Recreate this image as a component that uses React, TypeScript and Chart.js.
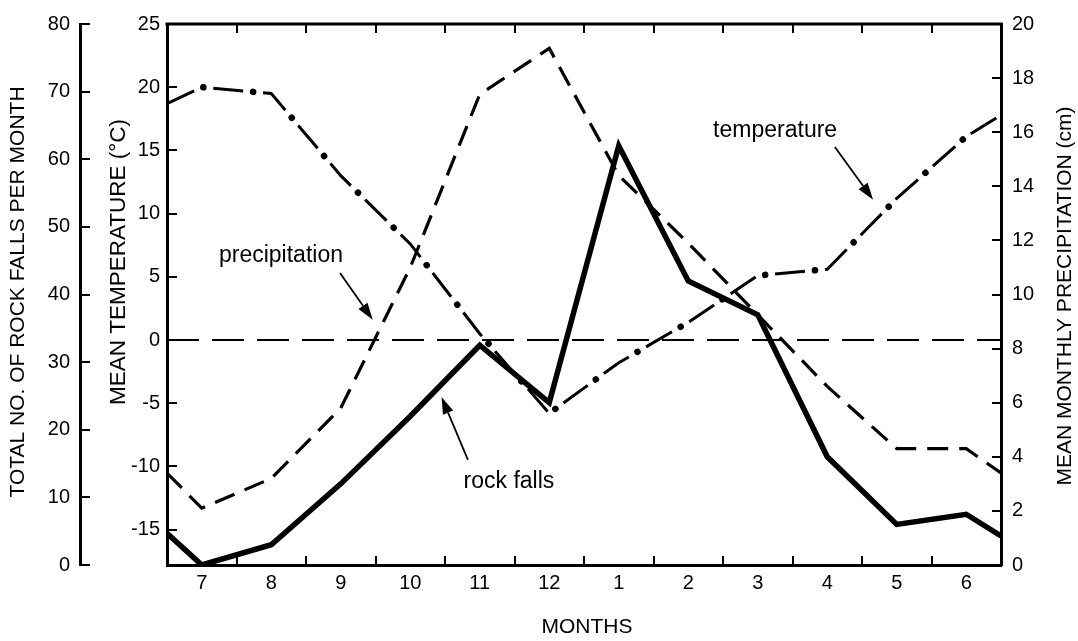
import React, { useEffect, useRef } from 'react';
import { Chart, registerables } from 'chart.js';

Chart.register(...registerables);

// ---- data ----
const months = ['7', '8', '9', '10', '11', '12', '1', '2', '3', '4', '5', '6'];
const rockFalls = [0, 3, 12, 22, 32.5, 24, 62, 42, 37, 16, 6, 7.5];
const rockFallsEnds = [4.7, 4.3];
const temperature = [20.0, 19.5, 13.0, 7.6, 0.5, -5.8, -1.8, 1.4, 5.1, 5.6, 11.2, 16.1];
const temperatureEnds = [18.7, 17.8];
const precipitation = [2.1, 3.2, 5.8, 11.0, 17.4, 19.1, 14.4, 11.9, 9.25, 6.6, 4.3, 4.3];
const precipitationEnds = [3.4, 3.4];
const rockTicks = [0, 10, 20, 30, 40, 50, 60, 70, 80];
const tempTicks = [-15, -10, -5, 0, 5, 10, 15, 20, 25];
const precipTicks = [0, 2, 4, 6, 8, 10, 12, 14, 16, 18, 20];

const FIRST = 7;
const FONT = "'Liberation Sans', Arial, Helvetica, sans-serif";

// annotations placed in (month, temperature) coordinates
const notes = [
  { text: 'precipitation', at: [8.14, 6.7], from: [8.99, 5.3], to: [9.46, 1.6] },
  { text: 'temperature', at: [15.25, 16.55], from: [16.11, 15.27], to: [16.66, 11.1] },
  { text: 'rock falls', at: [11.42, -11.2], from: [10.83, -9.49], to: [10.45, -4.5] },
];

function series(vals: number[], ends: number[]) {
  return [
    { x: FIRST - 0.5, y: ends[0] },
    ...vals.map((y, i) => ({ x: FIRST + i, y })),
    { x: FIRST + vals.length - 0.5, y: ends[1] },
  ];
}

function setTicks(list: number[]) {
  return (scale: any) => {
    scale.ticks = list.map((v) => ({ value: v }));
  };
}

const decor = {
  id: 'decor',
  afterDraw(chart: any) {
    const { ctx, chartArea, scales } = chart;
    const { left, right, top, bottom } = chartArea;
    const xs = scales.x;
    const yR = scales.yRock;
    const yT = scales.yTemp;
    const yP = scales.yPrecip;
    ctx.save();
    ctx.strokeStyle = '#000';
    ctx.fillStyle = '#000';
    ctx.lineCap = 'butt';
    // top frame
    ctx.lineWidth = 3;
    ctx.beginPath();
    ctx.moveTo(left - 1.5, top);
    ctx.lineTo(right + 1.5, top);
    ctx.stroke();
    // inward ticks
    ctx.lineWidth = 2;
    ctx.beginPath();
    for (let i = 0; i < months.length - 1; i++) {
      const px = Math.round(xs.getPixelForValue(FIRST + i + 0.5));
      ctx.moveTo(px, top);
      ctx.lineTo(px, top + 9);
      ctx.moveTo(px, bottom);
      ctx.lineTo(px, bottom - 9);
    }
    rockTicks.forEach((v) => {
      const py = Math.round(yR.getPixelForValue(v));
      ctx.moveTo(yR.right, py);
      ctx.lineTo(yR.right + 10, py);
    });
    tempTicks.forEach((v) => {
      const py = Math.round(yT.getPixelForValue(v));
      ctx.moveTo(left, py);
      ctx.lineTo(left + 10, py);
    });
    precipTicks.forEach((v) => {
      const py = Math.round(yP.getPixelForValue(v));
      ctx.moveTo(right, py);
      ctx.lineTo(right - 9, py);
    });
    ctx.stroke();

    // axis titles
    const rot = (text: string, cx: number, cy: number, size: number) => {
      ctx.save();
      ctx.font = `${size}px ${FONT}`;
      ctx.textAlign = 'center';
      ctx.textBaseline = 'middle';
      ctx.translate(cx, cy);
      ctx.rotate(-Math.PI / 2);
      ctx.fillText(text, 0, 0);
      ctx.restore();
    };
    rot('TOTAL NO. OF ROCK FALLS PER MONTH', yR.left + 18, 292, 21);
    rot('MEAN TEMPERATURE (°C)', yT.left + 39, 262, 22.5);
    rot('MEAN MONTHLY PRECIPITATION (cm)', yP.right - 13, 296, 21);
    ctx.font = `21px ${FONT}`;
    ctx.textAlign = 'center';
    ctx.textBaseline = 'middle';
    ctx.fillText('MONTHS', (left + right) / 2 + 3, 627);

    // annotations with arrows
    ctx.font = `23px ${FONT}`;
    notes.forEach((n) => {
      ctx.fillText(n.text, xs.getPixelForValue(n.at[0]), yT.getPixelForValue(n.at[1]));
      const x1 = xs.getPixelForValue(n.from[0]);
      const y1 = yT.getPixelForValue(n.from[1]);
      const x2 = xs.getPixelForValue(n.to[0]);
      const y2 = yT.getPixelForValue(n.to[1]);
      const ang = Math.atan2(y2 - y1, x2 - x1);
      const hl = 17;
      const hw = 5.5;
      const bx = x2 - hl * Math.cos(ang);
      const by = y2 - hl * Math.sin(ang);
      ctx.lineWidth = 1.8;
      ctx.beginPath();
      ctx.moveTo(x1, y1);
      ctx.lineTo(bx, by);
      ctx.stroke();
      ctx.beginPath();
      ctx.moveTo(x2, y2);
      ctx.lineTo(bx + hw * Math.sin(ang), by - hw * Math.cos(ang));
      ctx.lineTo(bx - hw * Math.sin(ang), by + hw * Math.cos(ang));
      ctx.closePath();
      ctx.fill();
    });
    ctx.restore();
  },
};

const tickFont = { family: FONT, size: 20 };

export default function App() {
  const ref = useRef<HTMLCanvasElement>(null);
  useEffect(() => {
    const tempData = series(temperature, temperatureEnds);
    const chart = new Chart(ref.current as HTMLCanvasElement, {
      type: 'line',
      data: {
        datasets: [
          {
            label: 'zero',
            data: [
              { x: FIRST - 0.5, y: 0 },
              { x: FIRST + months.length - 0.5, y: 0 },
            ],
            yAxisID: 'yTemp',
            borderColor: '#000',
            borderWidth: 1.8,
            borderDash: [32, 13],
            pointRadius: 0,
          },
          {
            label: 'precipitation',
            data: series(precipitation, precipitationEnds),
            yAxisID: 'yPrecip',
            borderColor: '#000',
            borderWidth: 3.2,
            borderDash: [21, 11],
            pointRadius: 0,
          },
          {
            label: 'temperature',
            data: tempData,
            yAxisID: 'yTemp',
            borderColor: '#000',
            borderWidth: 3,
            borderDash: [30, 20],
            pointRadius: 0,
          },
          {
            label: 'temperature dots',
            data: tempData,
            yAxisID: 'yTemp',
            borderColor: '#000',
            borderWidth: 6.5,
            borderCapStyle: 'round',
            borderDash: [0.1, 49.9],
            borderDashOffset: 10,
            pointRadius: 0,
          },
          {
            label: 'rock falls',
            data: series(rockFalls, rockFallsEnds),
            yAxisID: 'yRock',
            borderColor: '#000',
            borderWidth: 5.5,
            borderJoinStyle: 'miter',
            pointRadius: 0,
          },
        ],
      },
      options: {
        animation: false,
        responsive: false,
        devicePixelRatio: 1,
        layout: { padding: { top: 24, left: 0, right: 0, bottom: 0 } },
        plugins: { legend: { display: false }, tooltip: { enabled: false } },
        elements: { line: { tension: 0 }, point: { radius: 0 } },
        scales: {
          x: {
            type: 'linear',
            position: 'bottom',
            min: FIRST - 0.5,
            max: FIRST + months.length - 0.5,
            afterBuildTicks: setTicks(months.map((_, i) => FIRST + i)),
            afterFit: (s: any) => {
              s.height = 76;
            },
            ticks: {
              autoSkip: false,
              maxRotation: 0,
              padding: 6,
              color: '#000',
              font: tickFont,
              callback: (v: any) => months[Math.round(Number(v)) - FIRST],
            },
            grid: { display: false, drawTicks: false },
            border: { display: true, color: '#000', width: 3 },
          },
          yRock: {
            type: 'linear',
            position: 'left',
            weight: 1,
            min: 0,
            max: 80,
            afterBuildTicks: setTicks(rockTicks),
            afterFit: (s: any) => {
              s.width = 80;
            },
            ticks: { padding: 10, color: '#000', font: tickFont },
            grid: { display: false, drawTicks: false },
            border: { display: true, color: '#000', width: 3 },
          },
          yTemp: {
            type: 'linear',
            position: 'left',
            weight: 0,
            min: -17.8,
            max: 25,
            afterBuildTicks: setTicks(tempTicks),
            afterFit: (s: any) => {
              s.width = 87;
            },
            ticks: { padding: 7, color: '#000', font: tickFont },
            grid: { display: false, drawTicks: false },
            border: { display: true, color: '#000', width: 3 },
          },
          yPrecip: {
            type: 'linear',
            position: 'right',
            min: 0,
            max: 20,
            afterBuildTicks: setTicks(precipTicks),
            afterFit: (s: any) => {
              s.width = 77;
            },
            ticks: { padding: 11, color: '#000', font: tickFont },
            grid: { display: false, drawTicks: false },
            border: { display: true, color: '#000', width: 3 },
          },
        },
      } as any,
      plugins: [decor],
    } as any);
    return () => chart.destroy();
  }, []);
  return (
    <div style={{ position: 'fixed', left: 0, top: 0, width: 1078, height: 641, background: '#fff' }}>
      <canvas ref={ref} width={1078} height={641} style={{ display: 'block', width: 1078, height: 641 }} />
    </div>
  );
}
